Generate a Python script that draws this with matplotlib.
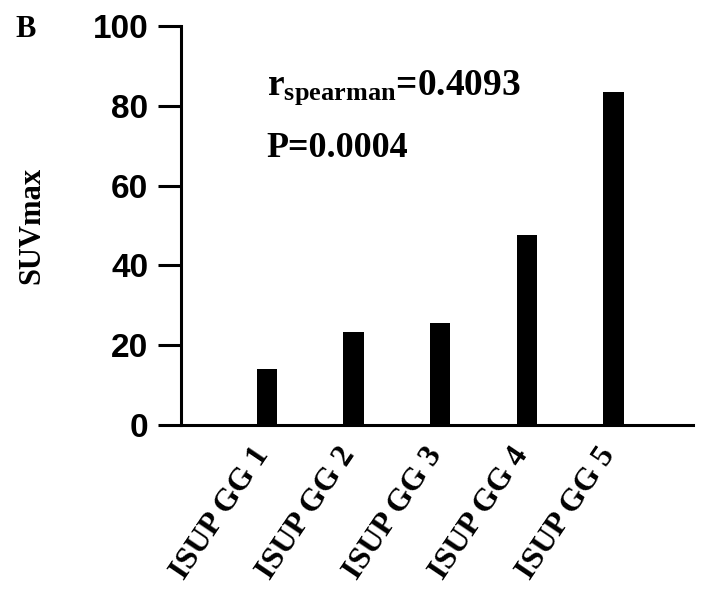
import matplotlib
matplotlib.use("Agg")
from matplotlib import pyplot as plt
from matplotlib.transforms import ScaledTranslation

# values
grades = ["ISUP GG 1", "ISUP GG 2", "ISUP GG 3", "ISUP GG 4", "ISUP GG 5"]
suv_max = [14.0, 23.4, 25.6, 47.6, 83.5]
y_ticks = [0, 20, 40, 60, 80, 100]

plt.rcParams['mathtext.fontset'] = 'custom'
plt.rcParams['mathtext.rm'] = 'Liberation Serif:bold'
plt.rcParams['mathtext.bf'] = 'Liberation Serif:bold'
plt.rcParams['mathtext.it'] = 'Liberation Serif:bold'

fig = plt.figure(figsize=(7.28, 6.04), dpi=100)
ax = fig.add_axes([0.2486, 0.2964, 0.7034, 0.6606])

x = list(range(len(grades)))
ax.bar(x, suv_max, width=0.235, color='black')

ax.set_xlim(-0.99, 4.92)
ax.set_ylim(0, 100)
ax.set_yticks(y_ticks)
ax.set_yticklabels([str(v) for v in y_ticks], fontfamily='Liberation Sans',
                   fontweight='bold', fontsize=24)
ax.tick_params(axis='y', length=16.5, width=2.2, pad=7, color='black')

ax.set_xticks(x)
ax.set_xticklabels(grades, fontfamily='Liberation Serif', fontweight='bold',
                   fontsize=23, rotation=56, ha='right', va='center',
                   rotation_mode='anchor')
ax.tick_params(axis='x', length=0, pad=18)
for lab in ax.get_xticklabels():
    lab.set_transform(lab.get_transform() + ScaledTranslation(-0.04, 0, fig.dpi_scale_trans))

for side in ['top', 'right']:
    ax.spines[side].set_visible(False)
for side in ['left', 'bottom']:
    ax.spines[side].set_linewidth(2.2)

ax.set_ylabel("SUVmax", fontfamily='Liberation Serif', fontweight='bold', fontsize=22)
ax.yaxis.set_label_coords(-0.262, 0.499)

ax.text(0.0, 82.7, r"$\mathbf{r_{spearman}}$=0.4093", fontfamily='Liberation Serif',
        fontweight='bold', fontsize=27, va='baseline', ha='left')
ax.text(0.0, 67.2, "P=0.0004", fontfamily='Liberation Serif', fontweight='bold',
        fontsize=26, va='baseline', ha='left')

fig.text(15 / 728, 1 - 37 / 604, "B", fontfamily='Liberation Serif', fontweight='bold',
         fontsize=22, va='baseline', ha='left')

fig.savefig("out.png", dpi=100)
